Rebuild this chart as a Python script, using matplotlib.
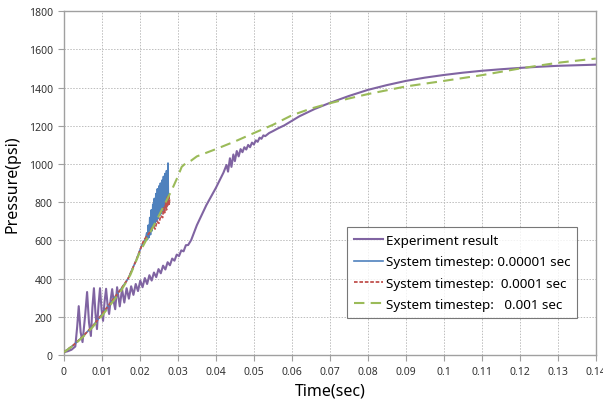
"""Pressure vs time: experiment against three system timesteps."""
import matplotlib
matplotlib.use("Agg")
import matplotlib.pyplot as plt

plt.rcParams["font.family"] = ["Noto Sans", "DejaVu Sans"]

# experiment result (purple)
exp_t = [0.0, 0.001, 0.002, 0.003, 0.0035, 0.0039, 0.0044, 0.0049, 0.0056, 0.0061,
         0.0066, 0.0071, 0.0075, 0.0079, 0.0083, 0.0087, 0.0091, 0.0095, 0.0099, 0.0103,
         0.0107, 0.0111, 0.0115, 0.0119, 0.0123, 0.0127, 0.0131, 0.0135, 0.0140, 0.0147,
         0.0153, 0.0159, 0.0165, 0.0171, 0.0177, 0.0183, 0.0189, 0.0195, 0.0201, 0.0207,
         0.0213, 0.0219, 0.0225, 0.0231, 0.0237, 0.0243, 0.0249, 0.0255, 0.0261, 0.0267,
         0.0273, 0.0279, 0.0285, 0.0291, 0.0297, 0.0303, 0.0309, 0.0315, 0.0321, 0.0327,
         0.0335, 0.035, 0.0375, 0.040, 0.042, 0.0428, 0.0432, 0.0437, 0.0441, 0.0446,
         0.045, 0.0455, 0.046, 0.0465, 0.047, 0.0475, 0.048, 0.0485, 0.049, 0.0495,
         0.050, 0.0505, 0.051, 0.0515, 0.052, 0.0525, 0.053, 0.054, 0.055, 0.0565,
         0.058, 0.062, 0.066, 0.070, 0.075, 0.080, 0.085, 0.090, 0.095, 0.100,
         0.105, 0.110, 0.115, 0.120, 0.125, 0.130, 0.135, 0.140]
exp_p = [15, 20, 28, 45, 150, 256, 120, 68, 210, 330,
         170, 100, 250, 350, 220, 136, 260, 350, 240, 179,
         280, 347, 260, 215, 290, 345, 280, 240, 355, 255,
         345, 275, 350, 295, 360, 315, 372, 335, 390, 355,
         403, 372, 418, 390, 432, 408, 450, 428, 468, 448,
         486, 470, 505, 494, 526, 518, 548, 543, 575, 576,
         602, 680, 785, 875, 955, 995, 960, 1030, 985, 1050,
         1015, 1068, 1040, 1078, 1062, 1088, 1076, 1100, 1088, 1112,
         1102, 1124, 1116, 1138, 1132, 1150, 1146, 1162, 1172, 1188,
         1202, 1250, 1288, 1320, 1356, 1388, 1413, 1435, 1452, 1466,
         1478, 1488, 1496, 1503, 1509, 1514, 1517, 1520]

# system timestep 0.00001 sec (blue)
s1_t = [0.0, 0.0025, 0.005, 0.0075, 0.0095, 0.0125, 0.015, 0.0169, 0.019, 0.0205,
        0.0215, 0.0218, 0.0220, 0.0222, 0.0224, 0.0226, 0.0228, 0.0230, 0.0232, 0.0234,
        0.0236, 0.0238, 0.0240, 0.0242, 0.0244, 0.0246, 0.0248, 0.0250, 0.0252, 0.0254,
        0.0256, 0.0258, 0.0260, 0.0262, 0.0264, 0.0266, 0.0268, 0.0270, 0.0272, 0.0274,
        0.0275]
s1_p = [15, 52, 98, 150, 200, 280, 345, 400, 495, 575,
        610, 640, 605, 680, 615, 720, 630, 760, 650, 790,
        670, 820, 690, 845, 700, 870, 715, 885, 730, 900,
        740, 915, 750, 935, 760, 950, 770, 965, 780, 1005,
        790]

# system timestep 0.0001 sec (red)
s2_t = [0.0, 0.0025, 0.005, 0.0075, 0.0095, 0.0125, 0.015, 0.0169, 0.019, 0.021,
        0.0225, 0.0235, 0.024, 0.0245, 0.025, 0.0255, 0.026, 0.0262, 0.0265, 0.0268,
        0.027, 0.0272, 0.0274, 0.0276, 0.0277, 0.0278]
s2_p = [15, 52, 98, 150, 200, 280, 345, 400, 495, 600,
        640, 675, 660, 700, 690, 730, 720, 770, 745, 800,
        760, 830, 780, 840, 790, 815]

# system timestep 0.001 sec (green)
s3_t = [0.0, 0.0025, 0.005, 0.0075, 0.010, 0.0125, 0.015, 0.0175, 0.020, 0.0218,
        0.025, 0.0283, 0.030, 0.031, 0.032, 0.0335, 0.035, 0.040, 0.045, 0.050,
        0.055, 0.060, 0.065, 0.070, 0.075, 0.080, 0.090, 0.100, 0.110, 0.120,
        0.130, 0.140]
s3_p = [15, 50, 95, 145, 205, 270, 335, 420, 540, 607,
        730, 860, 935, 985, 1003, 1018, 1040, 1078, 1118, 1162,
        1205, 1255, 1290, 1318, 1343, 1366, 1406, 1435, 1465, 1500,
        1530, 1552]

fig = plt.figure(figsize=(6.03, 4.06), dpi=100)
ax = fig.add_axes([0.106, 0.123, 0.882, 0.847])

ax.plot(exp_t, exp_p, color="#8064A2", lw=1.5, label="Experiment result", zorder=3)
ax.plot(s1_t, s1_p, color="#4F81BD", lw=1.2, label="System timestep: 0.00001 sec", zorder=4)
ax.plot(s2_t, s2_p, color="#C0504D", lw=1.3, ls=(0, (2, 1)),
        label="System timestep:  0.0001 sec", zorder=5)
ax.plot(s3_t, s3_p, color="#9BBB59", lw=1.5, ls=(0, (5, 3)),
        label="System timestep:   0.001 sec", zorder=6)

ax.set_xlim(0, 0.14)
ax.set_ylim(0, 1800)
ax.set_xticks([i * 0.01 for i in range(15)])
ax.set_xticklabels(["0"] + [f"{i * 0.01:g}" for i in range(1, 15)])
ax.set_yticks(range(0, 1801, 200))
ax.tick_params(labelsize=7.5, labelcolor="#333333", length=4, width=0.8,
               color="#a0a0a0", pad=4)
for s in ax.spines.values():
    s.set_color("#a0a0a0")
    s.set_linewidth(1.0)
ax.grid(True, color="#bdbdbd", ls=(0, (1.5, 1.5)), lw=0.7)

ax.set_xlabel("Time(sec)", fontsize=11.5, labelpad=4)
ax.set_ylabel("Pressure(psi)", fontsize=11.5, labelpad=6)

leg = ax.legend(loc="upper left", bbox_to_anchor=(0.532, 0.372), borderaxespad=0,
                fontsize=9.7, frameon=True, fancybox=False, handlelength=2.2,
                handletextpad=0.2, labelspacing=0.62, borderpad=0.5)
leg.get_frame().set_edgecolor("#555555")
leg.get_frame().set_linewidth(0.8)

fig.savefig("out.png", dpi=100)
